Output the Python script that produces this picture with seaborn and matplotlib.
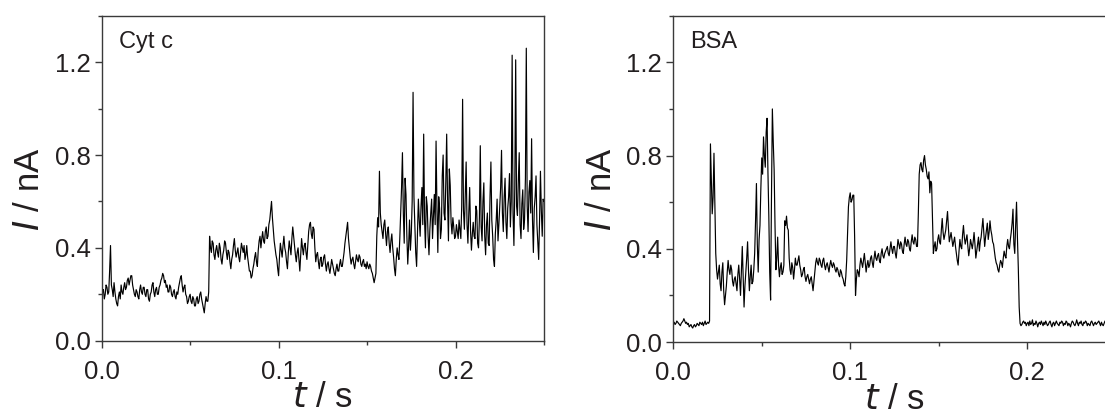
import numpy as np
import pandas as pd
import matplotlib
matplotlib.use("Agg")
import matplotlib.pyplot as plt
import seaborn as sns
from matplotlib.ticker import MultipleLocator

# Sampling interval of the recorded current traces (s)
sample_interval = 0.0005

# Current through the nanopore (nA) while Cyt c translocates, 0 - 0.25 s
cytc_current = [
    0.19, 0.21, 0.22, 0.18, 0.20, 0.24, 0.23, 0.20, 0.21, 0.30, 0.41, 0.24, 0.22, 0.19, 0.25, 0.21, 0.18, 0.16, 0.15, 0.19,
    0.21, 0.18, 0.24, 0.21, 0.20, 0.23, 0.25, 0.22, 0.23, 0.26, 0.27, 0.24, 0.26, 0.28, 0.28, 0.24, 0.22, 0.20, 0.19, 0.22,
    0.21, 0.19, 0.18, 0.22, 0.24, 0.21, 0.20, 0.23, 0.23, 0.20, 0.19, 0.22, 0.22, 0.18, 0.17, 0.20, 0.21, 0.24, 0.25, 0.21,
    0.19, 0.22, 0.23, 0.20, 0.20, 0.23, 0.24, 0.26, 0.27, 0.29, 0.28, 0.25, 0.26, 0.23, 0.24, 0.21, 0.21, 0.24, 0.23, 0.20,
    0.19, 0.21, 0.22, 0.19, 0.18, 0.21, 0.20, 0.23, 0.25, 0.27, 0.28, 0.24, 0.21, 0.23, 0.24, 0.20, 0.19, 0.16, 0.17, 0.19,
    0.20, 0.17, 0.16, 0.19, 0.18, 0.15, 0.15, 0.18, 0.19, 0.16, 0.17, 0.20, 0.21, 0.18, 0.16, 0.14, 0.12, 0.16, 0.19, 0.17,
    0.17, 0.21, 0.45, 0.40, 0.38, 0.43, 0.42, 0.37, 0.35, 0.39, 0.41, 0.38, 0.36, 0.42, 0.40, 0.35, 0.33, 0.37, 0.39, 0.43,
    0.42, 0.38, 0.35, 0.39, 0.38, 0.34, 0.31, 0.35, 0.37, 0.41, 0.44, 0.39, 0.36, 0.38, 0.40, 0.36, 0.34, 0.38, 0.42, 0.40,
    0.38, 0.41, 0.35, 0.37, 0.41, 0.36, 0.33, 0.30, 0.30, 0.27, 0.28, 0.31, 0.33, 0.36, 0.38, 0.34, 0.32, 0.39, 0.43, 0.45,
    0.40, 0.44, 0.47, 0.43, 0.42, 0.47, 0.49, 0.44, 0.45, 0.50, 0.52, 0.56, 0.60, 0.53, 0.48, 0.43, 0.40, 0.37, 0.35, 0.31,
    0.28, 0.36, 0.42, 0.39, 0.36, 0.41, 0.45, 0.40, 0.38, 0.34, 0.31, 0.38, 0.43, 0.40, 0.37, 0.44, 0.49, 0.45, 0.41, 0.37,
    0.34, 0.38, 0.40, 0.35, 0.30, 0.37, 0.44, 0.40, 0.37, 0.41, 0.42, 0.38, 0.35, 0.41, 0.47, 0.50, 0.51, 0.46, 0.44, 0.49,
    0.48, 0.40, 0.34, 0.37, 0.38, 0.34, 0.31, 0.35, 0.36, 0.32, 0.33, 0.36, 0.37, 0.33, 0.30, 0.33, 0.34, 0.31, 0.29, 0.32,
    0.35, 0.33, 0.31, 0.29, 0.28, 0.31, 0.33, 0.30, 0.30, 0.33, 0.35, 0.32, 0.32, 0.35, 0.38, 0.42, 0.45, 0.48, 0.51, 0.44,
    0.40, 0.36, 0.33, 0.35, 0.36, 0.33, 0.31, 0.34, 0.37, 0.35, 0.34, 0.37, 0.36, 0.33, 0.32, 0.34, 0.35, 0.32, 0.33, 0.31,
    0.34, 0.32, 0.31, 0.33, 0.32, 0.30, 0.29, 0.27, 0.25, 0.27, 0.29, 0.45, 0.53, 0.49, 0.73, 0.55, 0.50, 0.47, 0.44, 0.50,
    0.52, 0.46, 0.41, 0.47, 0.49, 0.42, 0.38, 0.43, 0.46, 0.40, 0.36, 0.31, 0.28, 0.35, 0.40, 0.37, 0.35, 0.44, 0.55, 0.66,
    0.81, 0.55, 0.42, 0.70, 0.63, 0.45, 0.33, 0.41, 0.52, 0.39, 0.46, 0.60, 1.07, 0.62, 0.50, 0.38, 0.32, 0.47, 0.61, 0.52,
    0.45, 0.58, 0.66, 0.50, 0.89, 0.52, 0.40, 0.62, 0.58, 0.45, 0.37, 0.48, 0.55, 0.61, 0.44, 0.53, 0.63, 0.50, 0.86, 0.57,
    0.38, 0.62, 0.57, 0.44, 0.48, 0.71, 0.80, 0.55, 0.52, 0.68, 0.89, 0.60, 0.43, 0.74, 0.67, 0.51, 0.46, 0.53, 0.49, 0.44,
    0.45, 0.50, 0.47, 0.44, 0.52, 0.48, 0.44, 0.58, 1.04, 0.56, 0.48, 0.63, 0.77, 0.50, 0.42, 0.55, 0.66, 0.47, 0.39, 0.46,
    0.51, 0.45, 0.44, 0.58, 0.56, 0.42, 0.40, 0.53, 0.84, 0.49, 0.43, 0.60, 0.68, 0.45, 0.37, 0.50, 0.55, 0.42, 0.41, 0.62,
    0.77, 0.52, 0.45, 0.35, 0.32, 0.46, 0.52, 0.61, 0.43, 0.50, 0.58, 0.66, 0.82, 0.55, 0.47, 0.62, 0.70, 0.51, 0.44, 0.57,
    0.62, 0.72, 0.49, 0.60, 1.23, 0.55, 0.41, 0.66, 1.21, 0.58, 0.54, 0.69, 0.81, 0.50, 0.44, 0.59, 0.65, 0.48, 0.52, 0.70,
    1.26, 0.58, 0.47, 0.64, 0.69, 0.55, 0.87, 0.52, 0.38, 0.57, 0.62, 0.71, 0.50, 0.42, 0.35, 0.52, 0.73, 0.56, 0.45, 0.61,
    0.60,
]

# Current through the nanopore (nA) while BSA translocates, 0 - 0.25 s
bsa_current = [
    0.080, 0.085, 0.075, 0.080, 0.090, 0.085, 0.080, 0.075, 0.070, 0.080, 0.085, 0.090, 0.100, 0.090, 0.080, 0.085, 0.075, 0.080, 0.065, 0.070,
    0.075, 0.065, 0.060, 0.070, 0.075, 0.065, 0.070, 0.080, 0.075, 0.070, 0.085, 0.080, 0.075, 0.085, 0.070, 0.080, 0.090, 0.075, 0.080, 0.085,
    0.08, 0.09, 0.85, 0.70, 0.55, 0.62, 0.81, 0.60, 0.38, 0.31, 0.27, 0.30, 0.33, 0.25, 0.22, 0.30, 0.34, 0.22, 0.16, 0.20,
    0.24, 0.30, 0.35, 0.31, 0.29, 0.33, 0.31, 0.26, 0.24, 0.27, 0.28, 0.25, 0.22, 0.29, 0.33, 0.27, 0.20, 0.30, 0.41, 0.28,
    0.15, 0.24, 0.30, 0.36, 0.43, 0.31, 0.22, 0.28, 0.33, 0.25, 0.26, 0.31, 0.38, 0.52, 0.68, 0.42, 0.30, 0.44, 0.50, 0.66,
    0.79, 0.72, 0.88, 0.80, 0.75, 0.90, 0.96, 0.73, 0.54, 0.30, 0.18, 0.62, 1.00, 0.86, 0.74, 0.50, 0.31, 0.36, 0.45, 0.33,
    0.28, 0.32, 0.34, 0.29, 0.30, 0.33, 0.52, 0.50, 0.54, 0.49, 0.48, 0.36, 0.31, 0.29, 0.34, 0.32, 0.27, 0.31, 0.36, 0.33,
    0.33, 0.35, 0.37, 0.33, 0.31, 0.28, 0.29, 0.31, 0.32, 0.28, 0.26, 0.28, 0.29, 0.27, 0.25, 0.27, 0.28, 0.25, 0.22, 0.26,
    0.30, 0.34, 0.36, 0.34, 0.33, 0.36, 0.35, 0.33, 0.32, 0.35, 0.36, 0.33, 0.31, 0.33, 0.34, 0.32, 0.30, 0.33, 0.35, 0.33,
    0.32, 0.34, 0.33, 0.31, 0.30, 0.32, 0.31, 0.29, 0.28, 0.31, 0.30, 0.28, 0.27, 0.25, 0.24, 0.28, 0.35, 0.47, 0.58, 0.62,
    0.64, 0.60, 0.61, 0.63, 0.63, 0.45, 0.20, 0.27, 0.31, 0.30, 0.28, 0.33, 0.36, 0.34, 0.32, 0.35, 0.38, 0.34, 0.30, 0.33,
    0.35, 0.32, 0.33, 0.36, 0.37, 0.34, 0.32, 0.36, 0.39, 0.36, 0.35, 0.37, 0.38, 0.35, 0.34, 0.38, 0.40, 0.37, 0.36, 0.38,
    0.39, 0.40, 0.41, 0.38, 0.37, 0.40, 0.43, 0.40, 0.38, 0.41, 0.41, 0.38, 0.36, 0.40, 0.44, 0.42, 0.40, 0.43, 0.42, 0.39,
    0.38, 0.42, 0.45, 0.42, 0.41, 0.44, 0.43, 0.40, 0.39, 0.43, 0.46, 0.43, 0.42, 0.45, 0.44, 0.41, 0.41, 0.55, 0.72, 0.76,
    0.77, 0.74, 0.73, 0.78, 0.80, 0.76, 0.74, 0.71, 0.70, 0.73, 0.64, 0.69, 0.68, 0.52, 0.38, 0.41, 0.43, 0.39, 0.40, 0.44,
    0.46, 0.43, 0.42, 0.48, 0.53, 0.47, 0.44, 0.46, 0.48, 0.52, 0.56, 0.49, 0.43, 0.45, 0.47, 0.44, 0.41, 0.43, 0.45, 0.41,
    0.38, 0.35, 0.33, 0.39, 0.44, 0.41, 0.40, 0.46, 0.50, 0.45, 0.42, 0.44, 0.46, 0.41, 0.37, 0.40, 0.44, 0.42, 0.40, 0.43,
    0.47, 0.42, 0.36, 0.39, 0.42, 0.45, 0.39, 0.43, 0.45, 0.49, 0.53, 0.47, 0.41, 0.45, 0.48, 0.51, 0.44, 0.47, 0.52, 0.48,
    0.46, 0.43, 0.42, 0.39, 0.36, 0.34, 0.33, 0.31, 0.30, 0.33, 0.35, 0.34, 0.32, 0.36, 0.39, 0.37, 0.36, 0.41, 0.44, 0.41,
    0.40, 0.44, 0.47, 0.51, 0.57, 0.42, 0.38, 0.50, 0.60, 0.45, 0.32, 0.15, 0.08, 0.07, 0.075, 0.085, 0.09, 0.08, 0.085, 0.07,
    0.080, 0.085, 0.070, 0.090, 0.075, 0.080, 0.095, 0.070, 0.080, 0.075, 0.090, 0.080, 0.065, 0.080, 0.085, 0.075, 0.090, 0.080, 0.070, 0.085,
    0.075, 0.090, 0.080, 0.070, 0.075, 0.085, 0.090, 0.075, 0.065, 0.080, 0.085, 0.070, 0.080, 0.090, 0.080, 0.075, 0.070, 0.085, 0.080, 0.090,
    0.085, 0.070, 0.080, 0.075, 0.090, 0.085, 0.070, 0.080, 0.075, 0.065, 0.080, 0.090, 0.085, 0.075, 0.070, 0.080, 0.095, 0.080, 0.070, 0.085,
    0.080, 0.090, 0.075, 0.070, 0.085, 0.080, 0.090, 0.085, 0.070, 0.080, 0.075, 0.070, 0.085, 0.090, 0.080, 0.070, 0.080, 0.085, 0.075, 0.080,
    0.085, 0.090, 0.080, 0.070, 0.085, 0.075, 0.070, 0.080, 0.090, 0.085, 0.075, 0.070, 0.080, 0.085, 0.090, 0.070, 0.080, 0.075, 0.070, 0.080,
    0.08,
]

panel_labels = ["Cyt c", "BSA"]
x_ticks = [0.0, 0.1, 0.2]
y_ticks = [0.0, 0.4, 0.8, 1.2]

sns.set_theme(style="ticks")
plt.rcParams["font.family"] = ["Liberation Sans", "DejaVu Sans"]

ink = "#231f20"
frame = "#3a3a3a"

fig = plt.figure(figsize=(11.05, 4.18), dpi=100)
ax_left = fig.add_axes([0.0920, 0.1849, 0.4003, 0.7775])
ax_right = fig.add_axes([0.6093, 0.1818, 0.4003, 0.7806])

traces = [cytc_current, bsa_current]
for ax, values, label in zip([ax_left, ax_right], traces, panel_labels):
    df = pd.DataFrame({
        "t": np.arange(len(values)) * sample_interval,
        "I": values,
    })
    sns.lineplot(data=df, x="t", y="I", ax=ax, color="black",
                 linewidth=0.85, estimator=None, sort=False)
    ax.set_xlim(0.0, 0.25)
    ax.set_ylim(0.0, 1.4)
    ax.set_xticks(x_ticks)
    ax.set_yticks(y_ticks)
    ax.set_xticklabels([f"{v:.1f}" for v in x_ticks])
    ax.set_yticklabels([f"{v:.1f}" for v in y_ticks])
    ax.xaxis.set_minor_locator(MultipleLocator(0.05))
    ax.yaxis.set_minor_locator(MultipleLocator(0.2))
    ax.tick_params(which="major", direction="out", length=5, width=1.0,
                   color=frame, labelsize=18.5, labelcolor=ink)
    ax.tick_params(axis="x", which="major", pad=9)
    ax.tick_params(axis="y", which="major", pad=3)
    ax.tick_params(which="minor", direction="out", length=3, width=1.0,
                   color=frame)
    for side in ["left", "right", "top", "bottom"]:
        ax.spines[side].set_visible(True)
        ax.spines[side].set_color(frame)
        ax.spines[side].set_linewidth(1.0)
    ax.set_xlabel(r"$\it{t}$ / s", fontsize=25, color=ink, labelpad=-2)
    ax.set_ylabel(r"$\it{I}$ / nA", fontsize=25, color=ink, labelpad=6)
    ax.yaxis.label.set_y(0.467)
    ax.text(0.039, 0.90, label, transform=ax.transAxes, fontsize=17,
            color=ink, ha="left", va="baseline")

fig.savefig("out.png", dpi=100)
